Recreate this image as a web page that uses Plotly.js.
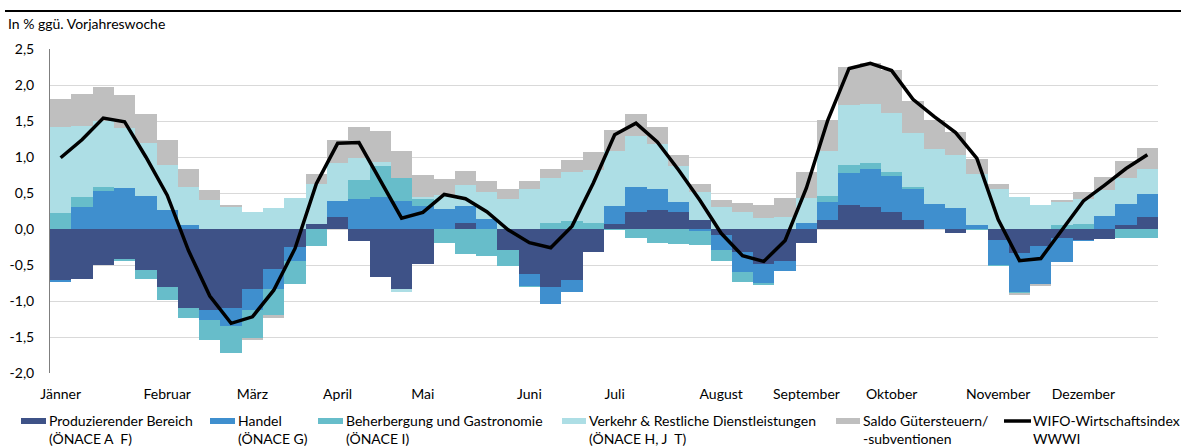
<!DOCTYPE html>
<html>
<head>
<meta charset="utf-8">
<script src="https://cdn.plot.ly/plotly-3.0.1.min.js"></script>
<style>
  html, body { margin: 0; padding: 0; background: #fff; }
  #plotDiv { width: 1181px; height: 448px; }
</style>
</head>
<body>
<div id="plotDiv"></div>
<script>
// Kalenderwochen 1..52
let weeks = [];
for (let i = 1; i <= 52; i++) weeks.push(i);

// Beiträge zum WWWI, in Prozentpunkten
let produz = [-0.71, -0.69, -0.50, -0.42, -0.57, -0.81, -1.10, -1.12, -1.10, -0.83, -0.55, -0.25,
  0.07, 0.16, -0.16, -0.66, -0.83, -0.48, 0, 0.08, 0, -0.29, -0.62, -0.80, -0.71, -0.32,
  0.07, 0.23, 0.26, 0.24, 0.13, -0.08, -0.32, -0.48, -0.45, -0.20, 0.12, 0.34, 0.30, 0.23,
  0.12, 0, -0.05, 0, -0.15, -0.33, -0.24, -0.12, -0.15, -0.14, 0.06, 0.17];
let handel = [-0.02, 0.31, 0.53, 0.57, 0.46, 0.26, 0.06, -0.14, -0.25, -0.30, -0.29, -0.19,
  0, 0.23, 0.41, 0.44, 0.39, 0.32, 0.28, 0.24, 0.14, 0, -0.17, -0.24, -0.17, 0,
  0.25, 0.35, 0.30, 0.14, -0.03, -0.21, -0.28, -0.27, -0.13, 0.08, 0.26, 0.44, 0.54, 0.50,
  0.44, 0.35, 0.29, 0.06, -0.35, -0.54, -0.52, -0.34, -0.01, 0.18, 0.29, 0.32];
let beherb = [0.22, 0.13, 0.06, -0.02, -0.13, -0.17, -0.13, -0.28, -0.37, -0.39, -0.36, -0.32,
  -0.24, 0, 0.27, 0.43, 0.32, 0.10, -0.19, -0.35, -0.37, -0.22, -0.01, 0.09, 0.11, 0.08,
  -0.02, -0.13, -0.19, -0.21, -0.19, -0.16, -0.13, -0.03, 0, 0.01, 0.08, 0.11, 0.07, 0.06,
  0.02, 0, 0, -0.01, -0.02, -0.02, 0, 0.06, 0.07, 0, -0.12, -0.12];
let verkehr = [1.20, 0.99, 0.91, 0.83, 0.73, 0.63, 0.52, 0.40, 0.30, 0.24, 0.29, 0.43,
  0.56, 0.53, 0.30, 0.06, -0.05, 0.03, 0.19, 0.29, 0.37, 0.42, 0.55, 0.62, 0.68, 0.74,
  0.76, 0.71, 0.62, 0.49, 0.38, 0.30, 0.23, 0.15, 0.17, 0.34, 0.62, 0.83, 0.82, 0.82,
  0.76, 0.76, 0.74, 0.70, 0.55, 0.44, 0.33, 0.31, 0.34, 0.36, 0.36, 0.35];
let saldo = [0.39, 0.45, 0.47, 0.46, 0.41, 0.34, 0.25, 0.14, 0.04, -0.02, -0.03, 0,
  0.14, 0.31, 0.43, 0.43, 0.38, 0.30, 0.23, 0.20, 0.16, 0.14, 0.12, 0.12, 0.17, 0.25,
  0.29, 0.31, 0.23, 0.16, 0.11, 0.10, 0.13, 0.19, 0.26, 0.36, 0.44, 0.53, 0.58, 0.60,
  0.44, 0.41, 0.32, 0.21, 0.07, -0.02, -0.03, 0.03, 0.10, 0.18, 0.23, 0.28];
// WIFO-Wirtschaftsindex
let wwwi = [0.99, 1.24, 1.54, 1.49, 1.00, 0.47, -0.30, -0.93, -1.31, -1.22, -0.85, -0.27,
  0.63, 1.19, 1.20, 0.68, 0.15, 0.23, 0.48, 0.42, 0.24, -0.01, -0.19, -0.26, 0.04, 0.64,
  1.31, 1.47, 1.21, 0.82, 0.40, -0.06, -0.37, -0.45, -0.16, 0.57, 1.51, 2.23, 2.30, 2.20,
  1.80, 1.56, 1.34, 0.98, 0.13, -0.44, -0.41, -0.01, 0.39, 0.61, 0.84, 1.03];

// Achsenbeschriftung
let monthTicks = [1, 6, 10, 14, 18, 23, 27, 32, 36, 40, 45, 49];
let monthLabels = ["Jänner", "Februar", "März", "April", "Mai", "Juni", "Juli", "August",
  "September", "Oktober", "November", "Dezember"];
let yTicks = [-2, -1.5, -1, -0.5, 0, 0.5, 1, 1.5, 2, 2.5];
let yLabels = ["-2,0", "-1,5", "-1,0", "-0,5", "0,0", "0,5", "1,0", "1,5", "2,0", "2,5"];

let names = ["Produzierender Bereich<br>(ÖNACE A  F)", "Handel<br>(ÖNACE G)",
  "Beherbergung und Gastronomie<br>(ÖNACE I)", "Verkehr & Restliche Dienstleistungen<br>(ÖNACE H, J  T)",
  "Saldo Gütersteuern/<br>-subventionen", "WIFO-Wirtschaftsindex<br>WWWI"];
let colors = ["#3E5287", "#3F8FCE", "#67BDCA", "#ADDEE5", "#BFBFBF", "#000000"];

let series = [produz, handel, beherb, verkehr, saldo];
let data = series.map((s, i) => ({
  x: weeks, y: s, name: names[i], type: "bar",
  marker: {color: colors[i], line: {width: 0}},
  showlegend: false
}));
data.push({
  x: weeks, y: wwwi, name: names[5], type: "scatter", mode: "lines",
  line: {color: colors[5], width: 3.5}, showlegend: false
});

// Pixel -> paper Umrechnung (Plotbereich 50..1158 x 49..373)
const px = v => (v - 50) / 1108;
const py = v => (373 - v) / 324;

// Legende von Hand, damit die Abstände passen
let legendX = [[21, 46, 49], [210, 235, 238], [318, 343, 346], [562, 586, 589], [836, 860, 863], [1004, 1031, 1033]];
let shapes = [
  {type: "line", xref: "paper", yref: "paper", x0: px(5), x1: px(1181), y0: py(11), y1: py(11),
   line: {color: "#000", width: 2}}
];
let annotations = [
  {xref: "paper", yref: "paper", x: px(6), y: py(23), xanchor: "left", yanchor: "middle",
   text: "In % ggü. Vorjahreswoche", showarrow: false, font: {size: 14, color: "#000"}}
];
legendX.forEach((p, i) => {
  if (i < 5) {
    shapes.push({type: "rect", xref: "paper", yref: "paper", x0: px(p[0]), x1: px(p[1]),
      y0: py(418), y1: py(424), fillcolor: colors[i], line: {width: 0}});
  } else {
    shapes.push({type: "line", xref: "paper", yref: "paper", x0: px(p[0]), x1: px(p[1]),
      y0: py(421), y1: py(421), line: {color: colors[i], width: 3.5}});
  }
  annotations.push({xref: "paper", yref: "paper", x: px(p[2] - 2), y: py(410), xanchor: "left",
    yanchor: "top", align: "left", text: names[i], showarrow: false,
    font: {size: 14, color: "#000"}});
});

let boundaries = [];
for (let i = 0; i <= 52; i++) boundaries.push(i + 0.5);

var layout = {
  width: 1181, height: 448,
  margin: {l: 50, r: 23, t: 49, b: 75},
  paper_bgcolor: "#fff", plot_bgcolor: "#fff",
  font: {family: "Lato, 'Open Sans', sans-serif", size: 14, color: "#000"},
  barmode: "relative", bargap: 0,
  showlegend: false,
  xaxis: {
    range: [0.5, 52.5], tickmode: "array", tickvals: monthTicks, ticktext: monthLabels,
    showgrid: false, zeroline: false, showline: false, ticks: "", ticklabelstandoff: 11,
    tickfont: {size: 14}
  },
  xaxis2: {
    overlaying: "x", matches: "x", anchor: "free", position: 2 / 4.5, side: "bottom",
    tickmode: "array", tickvals: boundaries, showticklabels: false,
    ticks: "outside", ticklen: 4, tickcolor: "#000", tickwidth: 1,
    showline: true, linecolor: "#000", linewidth: 1, showgrid: false, zeroline: false
  },
  yaxis: {
    range: [-2, 2.5], tickmode: "array", tickvals: yTicks, ticktext: yLabels,
    showgrid: true, gridcolor: "#D9D9D9", gridwidth: 1, zeroline: false,
    showline: true, linecolor: "#7F7F7F", linewidth: 1, ticks: "", ticklabelstandoff: 12,
    tickfont: {size: 14}
  },
  shapes: shapes,
  annotations: annotations
};

Plotly.newPlot("plotDiv", data, layout, {staticPlot: true});
</script>
</body>
</html>
